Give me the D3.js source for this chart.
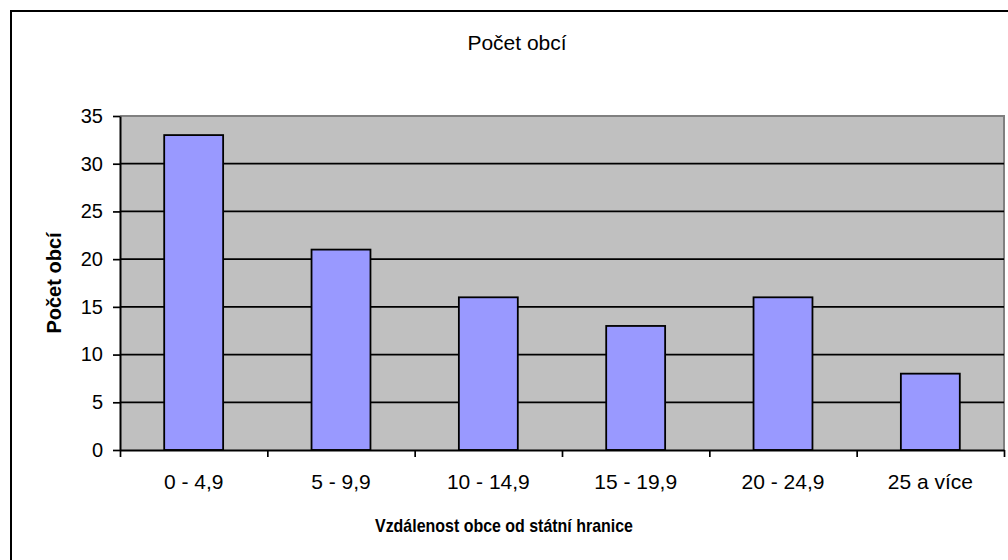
<!DOCTYPE html>
<html>
<head>
<meta charset="utf-8">
<script src="https://cdn.jsdelivr.net/npm/d3@7"></script>
<style>
  body { margin: 0; background: #fff; }
  svg { display: block; font-family: "Liberation Sans", Arial, sans-serif; }
</style>
</head>
<body>
<svg id="chart" width="1008" height="560"></svg>
<script>
// data
var categories = ["0 - 4,9", "5 - 9,9", "10 - 14,9", "15 - 19,9", "20 - 24,9", "25 a více"];
var counts = [33, 21, 16, 13, 16, 8];
var yTicks = [0, 5, 10, 15, 20, 25, 30, 35];
var chartTitle = "Počet obcí";
var xTitle = "Vzdálenost obce od státní hranice";
var yTitle = "Počet obcí";

// plot area
var plot = { left: 120, top: 116, right: 1004, bottom: 450 };

var svg = d3.select("#chart");

// outer frame (runs off the right and bottom edge)
svg.append("rect")
    .attr("x", 11).attr("y", 11)
    .attr("width", 1040).attr("height", 580)
    .attr("fill", "none")
    .attr("stroke", "#000")
    .attr("stroke-width", 2);

var x = d3.scaleBand()
    .domain(categories)
    .range([plot.left, plot.right])
    .paddingInner(0.6)
    .paddingOuter(0.3);

// linear scale for tick marks between the categories
var xEdge = d3.scaleLinear()
    .domain([0, categories.length])
    .range([plot.left, plot.right]);

var y = d3.scaleLinear()
    .domain([0, 35])
    .range([plot.bottom, plot.top]);

// background
svg.append("rect")
    .attr("x", plot.left).attr("y", plot.top)
    .attr("width", plot.right - plot.left)
    .attr("height", plot.bottom - plot.top)
    .attr("fill", "#c0c0c0");

// top and right gray border
svg.append("path")
    .attr("d", `M${plot.left},${plot.top}H${plot.right}V${plot.bottom}`)
    .attr("fill", "none")
    .attr("stroke", "#808080")
    .attr("stroke-width", 2);

// gridlines
svg.append("g")
    .selectAll("line")
    .data(yTicks.filter(d => d > 0 && d < 35))
    .join("line")
    .attr("x1", plot.left).attr("x2", plot.right)
    .attr("y1", d => y(d)).attr("y2", d => y(d))
    .attr("stroke", "#000")
    .attr("stroke-width", 1.7);

// bars
svg.append("g")
    .selectAll("rect")
    .data(counts)
    .join("rect")
    .attr("x", (d, i) => x(categories[i]))
    .attr("width", x.bandwidth())
    .attr("y", d => y(d))
    .attr("height", d => y(0) - y(d))
    .attr("fill", "#9999ff")
    .attr("stroke", "#000")
    .attr("stroke-width", 1.8);

// y axis
var yAxis = svg.append("g")
    .attr("transform", `translate(${plot.left},0)`)
    .call(d3.axisLeft(y).tickValues(yTicks).tickSize(7).tickPadding(10).tickSizeOuter(0));
yAxis.select(".domain").attr("stroke-width", 2);
yAxis.selectAll(".tick line").attr("stroke-width", 1.7);
yAxis.selectAll(".tick text")
    .attr("font-size", 20)
    .attr("font-family", "Liberation Sans, Arial, sans-serif")
    .attr("fill", "#000");

// x axis: tick marks at category edges
var xAxis = svg.append("g")
    .attr("transform", `translate(0,${plot.bottom})`)
    .call(d3.axisBottom(xEdge).tickValues(d3.range(categories.length + 1))
        .tickSize(7).tickFormat("").tickSizeOuter(0));
xAxis.select(".domain").attr("stroke-width", 2);
xAxis.selectAll(".tick line").attr("stroke-width", 1.7);

// x labels
svg.append("g")
    .attr("transform", `translate(0,${plot.bottom})`)
    .call(d3.axisBottom(x).tickSize(0).tickPadding(24))
    .call(g => g.select(".domain").remove())
    .selectAll("text")
    .attr("font-size", 21)
    .attr("font-family", "Liberation Sans, Arial, sans-serif")
    .attr("fill", "#000");

// titles
svg.append("text")
    .attr("x", 517).attr("y", 50)
    .attr("text-anchor", "middle")
    .attr("font-size", 21)
    .text(chartTitle);

svg.append("text")
    .attr("x", 504).attr("y", 532)
    .attr("text-anchor", "middle")
    .attr("font-size", 18.5)
    .attr("font-weight", "bold")
    .attr("textLength", 258)
    .attr("lengthAdjust", "spacingAndGlyphs")
    .text(xTitle);

svg.append("text")
    .attr("transform", "translate(61,283) rotate(-90)")
    .attr("text-anchor", "middle")
    .attr("font-size", 20)
    .attr("font-weight", "bold")
    .text(yTitle);
</script>
</body>
</html>
